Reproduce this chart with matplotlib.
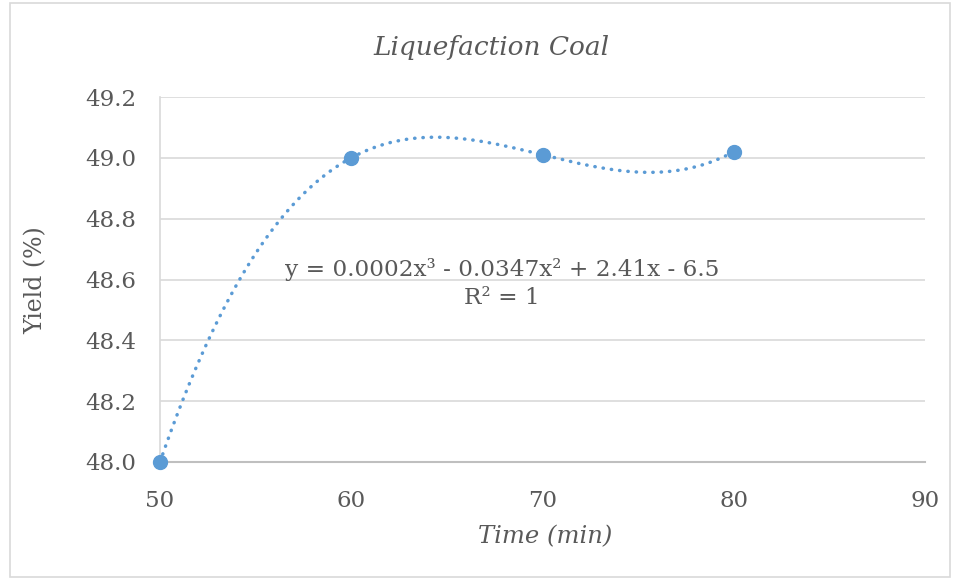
import numpy as np
import matplotlib
matplotlib.use("Agg")
import matplotlib.pyplot as plt
from matplotlib.patches import Rectangle

time_min = [50, 60, 70, 80]
yield_pct = [48.0, 49.0, 49.01, 49.02]
x_ticks = [50, 60, 70, 80, 90]
y_ticks = [48.0, 48.2, 48.4, 48.6, 48.8, 49.0, 49.2]
title = "Liquefaction Coal"
equation = "y = 0.0002x³ - 0.0347x² + 2.41x - 6.5"
r2_text = "R² = 1"

plt.rcParams['font.family'] = ['DejaVu Serif']
txt = '#595959'
blue = '#5B9BD5'

fig = plt.figure(figsize=(9.56, 5.78), dpi=100)
ax = fig.add_axes([160/956, 1-462/578, (925-160)/956, (462-97)/578])

coef = np.polyfit(time_min, yield_pct, 3)
xs = np.linspace(min(time_min), max(time_min), 300)
ax.plot(xs, np.polyval(coef, xs), linestyle=(0, (0.1, 2.3)), color=blue, lw=2.5,
        dash_capstyle='round', zorder=3)
ax.plot(time_min, yield_pct, 'o', color=blue, ms=10, zorder=4, clip_on=False)

ax.set_xlim(50, 90)
ax.set_ylim(48.0, 49.2)
ax.set_xticks(x_ticks)
ax.set_yticks(y_ticks)
ax.set_yticklabels([f"{v:.1f}" for v in y_ticks])
ax.tick_params(length=0, labelsize=16.5, colors=txt)
ax.tick_params(axis='y', pad=17)
ax.tick_params(axis='x', pad=20)
ax.grid(axis='y', color='#d9d9d9', lw=1.2)
ax.set_axisbelow(True)
for s in ['top', 'right']:
    ax.spines[s].set_visible(False)
ax.spines['left'].set_color('#d9d9d9')
ax.spines['bottom'].set_color('#bfbfbf')
ax.spines['left'].set_linewidth(1.2)
ax.spines['bottom'].set_linewidth(1.5)

fig.text(491/956, 1-47/578, title, ha='center', va='center', fontsize=19,
         style='italic', color=txt)
fig.text(545/956, 1-537/578, "Time (min)", ha='center', va='center', fontsize=17.5,
         style='italic', color=txt)
fig.text(36/956, 1-280/578, "Yield (%)", ha='center', va='center', fontsize=17,
         rotation=90, color=txt)
ax.text(0.447, 0.527, equation, transform=ax.transAxes, ha='center', va='center',
        fontsize=16.7, color=txt)
ax.text(0.447, 0.448, r2_text, transform=ax.transAxes, ha='center', va='center',
        fontsize=16.7, color=txt)

fig.patches.append(Rectangle((10/956, 0.002), 940/956, 0.993, transform=fig.transFigure,
                             fill=False, edgecolor='#d9d9d9', lw=1.2))

fig.savefig("out.png", dpi=100)
